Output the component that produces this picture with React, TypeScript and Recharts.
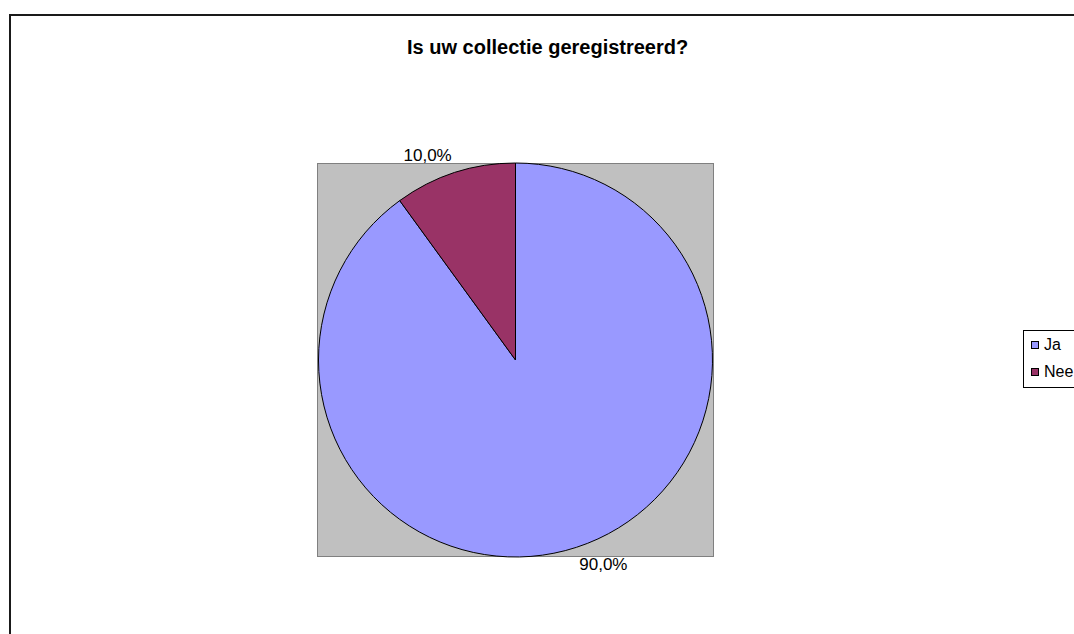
import React from "react";
import { PieChart, Pie, Cell, Legend } from "recharts";

const categories = ["Ja", "Nee"];
const values = [90, 10];
const colors = ["#9999FF", "#993366"];

const chartData = categories.map((name, i) => ({ name, value: values[i] }));
const total = values.reduce((a, b) => a + b, 0);

const FONT = "'Liberation Sans', Arial, sans-serif";

const RADIAN = Math.PI / 180;

// Excel-style label: text box sits just outside the slice edge point
const renderLabel = (props: any) => {
  const { cx, cy, midAngle, outerRadius, value } = props;
  const cos = Math.cos(-midAngle * RADIAN);
  const sin = Math.sin(-midAngle * RADIAN);
  const px = cx + outerRadius * cos;
  const py = cy + outerRadius * sin;
  const pct = ((value / total) * 100).toFixed(1).replace(".", ",") + "%";
  const w = pct.length * 9.6;
  const h = 17;
  const x = px + Math.sign(cos) * (w / 2 + 3);
  const y = py + Math.sign(sin) * (h / 2 + 9);
  return (
    <text
      x={x}
      y={y}
      textAnchor="middle"
      dominantBaseline="central"
      fontFamily={FONT}
      fontSize={17}
      fill="#000"
    >
      {pct}
    </text>
  );
};

const renderLegend = () => (
  <div style={styles.legend}>
    {categories.map((c, i) => (
      <div key={c} style={styles.legendRow}>
        <span style={{ ...styles.swatch, backgroundColor: colors[i] }} />
        <span>{c}</span>
      </div>
    ))}
  </div>
);

const App: React.FC = () => {
  return (
    <div style={styles.viewport}>
      <div style={styles.frame} />
      <div style={styles.plotArea} />
      <div style={styles.title}>Is uw collectie geregistreerd?</div>
      <div style={styles.chartHolder}>
        <PieChart width={1200} height={700} margin={{ top: 0, right: 0, bottom: 0, left: 0 }}>
          <Pie
            data={chartData}
            dataKey="value"
            nameKey="name"
            cx={515.5}
            cy={360}
            outerRadius={197}
            startAngle={90}
            endAngle={-270}
            stroke="#000"
            strokeWidth={1}
            label={renderLabel}
            labelLine={false}
            isAnimationActive={false}
          >
            {chartData.map((d, i) => (
              <Cell key={d.name} fill={colors[i]} />
            ))}
          </Pie>
          <Legend
            content={renderLegend}
            wrapperStyle={{ position: "absolute", left: 1023, top: 330, width: 100 }}
          />
        </PieChart>
      </div>
    </div>
  );
};

const styles: Record<string, React.CSSProperties> = {
  viewport: {
    position: "fixed",
    left: 0,
    top: 0,
    width: 1074,
    height: 634,
    overflow: "hidden",
    background: "#fff",
  },
  frame: {
    position: "absolute",
    left: 9,
    top: 14,
    width: 1200,
    height: 700,
    border: "2px solid #1a1a1a",
    boxSizing: "border-box",
  },
  plotArea: {
    position: "absolute",
    left: 317,
    top: 163,
    width: 397,
    height: 394,
    backgroundColor: "#C0C0C0",
    border: "1px solid #808080",
    boxSizing: "border-box",
  },
  title: {
    position: "absolute",
    left: 407,
    top: 36,
    width: 281,
    textAlign: "center",
    whiteSpace: "nowrap",
    fontFamily: FONT,
    fontWeight: "bold",
    fontSize: 20,
    color: "#000",
  },
  chartHolder: {
    position: "absolute",
    left: 0,
    top: 0,
  },
  legend: {
    width: 100,
    boxSizing: "border-box",
    border: "1px solid #000",
    background: "#fff",
    padding: "0 0 2px 7px",
    fontFamily: FONT,
    fontSize: 16,
    color: "#000",
  },
  legendRow: {
    display: "flex",
    alignItems: "center",
    whiteSpace: "nowrap",
    height: 27,
  },
  swatch: {
    display: "inline-block",
    width: 8,
    height: 8,
    border: "1px solid #000",
    boxSizing: "border-box",
    marginRight: 5,
  },
};

export default App;
